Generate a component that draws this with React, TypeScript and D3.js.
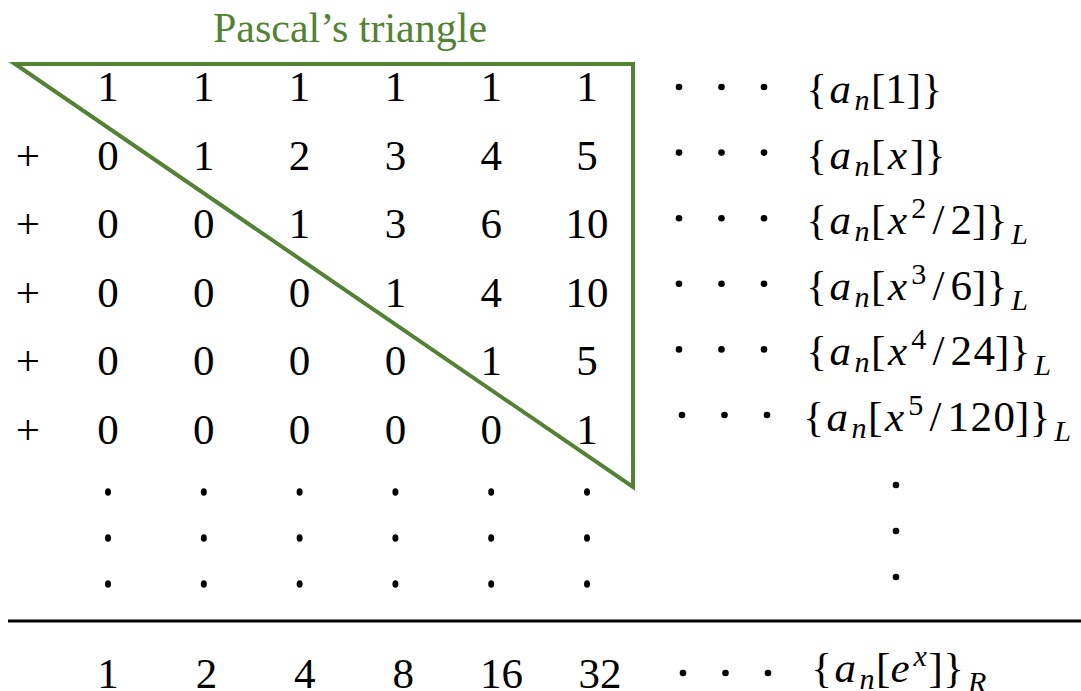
import React from 'react'
import * as d3 from 'd3'

const title = 'Pascal’s triangle'
const columns = [0, 1, 2, 3, 4, 5]
const pascalRows = [
  [1, 1, 1, 1, 1, 1],
  [0, 1, 2, 3, 4, 5],
  [0, 0, 1, 3, 6, 10],
  [0, 0, 0, 1, 4, 10],
  [0, 0, 0, 0, 1, 5],
  [0, 0, 0, 0, 0, 1],
]
const rowSigns = ['', '+', '+', '+', '+', '+']
const rowLabels = [
  '{a_n[1]}',
  '{a_n[x]}',
  '{a_n[x^2/2]}_L',
  '{a_n[x^3/6]}_L',
  '{a_n[x^4/24]}_L',
  '{a_n[x^5/120]}_L',
]
const ellipsisRows = [0, 1, 2]
const totals = [1, 2, 4, 8, 16, 32]
const totalLabel = '{a_n[e^x]}_R'

const GREEN = '#548235'
const SERIF = 'Liberation Serif'

// rough Computer Modern advance widths, in em
const cmWidth: Record<string, number> = {
  '{': 0.5, '}': 0.5, '[': 0.278, ']': 0.278, '/': 0.5,
  a: 0.529, n: 0.6, x: 0.572, L: 0.681, R: 0.759, e: 0.466,
}

type Glyph = { ch: string; level: 'base' | 'sub' | 'sup'; prev: string }

function parseFormula(src: string): Glyph[] {
  const out: Glyph[] = []
  let prev = ''
  for (let i = 0; i < src.length; i++) {
    let ch = src[i]
    let level: Glyph['level'] = 'base'
    if (ch === '_' || ch === '^') {
      level = ch === '_' ? 'sub' : 'sup'
      i++
      ch = src[i]
    }
    out.push({ ch, level, prev })
    prev = ch
  }
  return out
}

const EM = 46

function Formula({ src, x0, base }: { src: string; x0: number; base: number }) {
  let cx = x0
  const glyphs = parseFormula(src).map((gl, i) => {
    const scale = gl.level === 'base' ? 1 : 0.7
    const w = (cmWidth[gl.ch] ?? 0.5) * EM * scale
    let dy = 0
    if (gl.level === 'sub') dy = gl.prev === '}' ? 10 : 7
    if (gl.level === 'sup') dy = -16
    const el = (
      <text
        key={i}
        x={cx + w / 2}
        y={base + dy}
        textAnchor="middle"
        style={{
          fontFamily: SERIF,
          fontSize: `${43 * scale}px`,
          fontStyle: /[a-zA-Z]/.test(gl.ch) ? 'italic' : 'normal',
        }}
      >
        {gl.ch}
      </text>
    )
    cx += w
    return el
  })
  return <g>{glyphs}</g>
}

function Cdots({ x0, cy }: { x0: number; cy: number }) {
  return (
    <g>
      {[0, 1, 2].map((k) => (
        <circle key={k} cx={x0 + k * 42.5} cy={cy} r={3.3} fill="#000" />
      ))}
    </g>
  )
}

export default function App() {
  const x = d3.scalePoint<number>().domain(columns).range([108, 587])
  const y = d3.scaleLinear().domain([0, 5]).range([101, 444])
  const fy = d3.scaleLinear().domain([0, 5]).range([103, 431])
  const yDots = d3.scaleLinear().domain([0, 2]).range([492, 584])
  const xTotals = d3.scalePoint<number>().domain(columns).range([108, 600])

  const tri: [number, number][] = [
    [x(0)! - 93, y(0) - 37],
    [x(5)! + 46, y(0) - 37],
    [x(5)! + 46, y(5) + 43],
  ]
  const numStyle = { fontFamily: SERIF, fontSize: '43px' }

  return (
    <svg
      width={1081}
      height={691}
      style={{ position: 'absolute', left: 0, top: 0, background: '#fff' }}
    >
      <text
        x={350}
        y={42}
        textAnchor="middle"
        fill={GREEN}
        style={{ fontFamily: SERIF, fontSize: '42px' }}
      >
        {title}
      </text>

      <path
        d={d3.line()(tri) + 'Z'}
        fill="none"
        stroke={GREEN}
        strokeWidth={4}
        strokeLinejoin="miter"
      />

      {pascalRows.map((row, i) => (
        <g key={i} transform={`translate(0,${y(i)})`}>
          <text x={28} textAnchor="middle" style={numStyle}>
            {rowSigns[i]}
          </text>
          {row.map((v, j) => (
            <text key={j} x={x(j)} textAnchor="middle" style={numStyle}>
              {v}
            </text>
          ))}
        </g>
      ))}

      {rowLabels.map((lab, i) => {
        const shift = i === 5 ? 3 : 0
        return (
          <g key={lab}>
            <Cdots x0={679 + shift} cy={fy(i) - 16} />
            <Formula src={lab} x0={805 - shift} base={fy(i)} />
          </g>
        )
      })}

      {ellipsisRows.map((k) => (
        <g key={k}>
          {columns.map((j) => (
            <ellipse key={j} cx={x(j)} cy={yDots(k)} rx={3} ry={3.8} fill="#000" />
          ))}
          <circle cx={896} cy={yDots(k) - 7} r={3.3} fill="#000" />
        </g>
      ))}

      <line x1={8} x2={1081} y1={621} y2={621} stroke="#000" strokeWidth={3} />

      {totals.map((v, j) => (
        <text key={j} x={xTotals(j)} y={688} textAnchor="middle" style={numStyle}>
          {v}
        </text>
      ))}
      <Cdots x0={683} cy={673} />
      <Formula src={totalLabel} x0={810} base={682} />
    </svg>
  )
}
